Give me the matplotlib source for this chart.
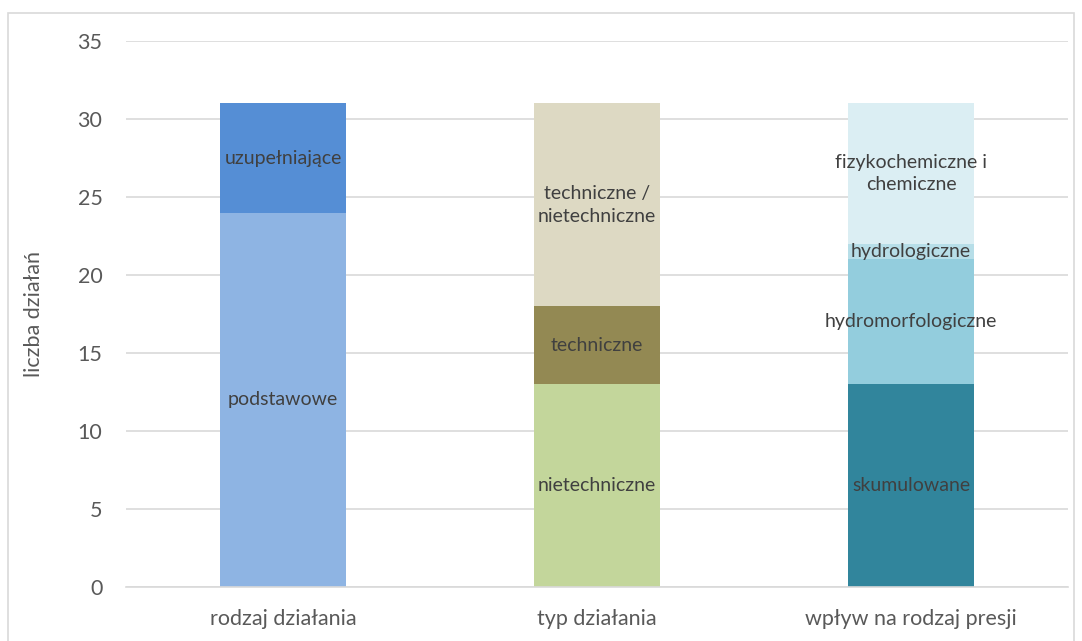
import matplotlib.pyplot as plt
import matplotlib.patches as mpatches
import numpy as np

plt.rcParams.update({'font.family': ['Lato', 'DejaVu Sans'],
                     'font.size': 15})

categories = ['rodzaj działania', 'typ działania', 'wpływ na rodzaj presji']
# stacked segments per bar: (label, value, colour), bottom to top
segments = [
    [('podstawowe', 24, '#8EB4E3'), ('uzupełniające', 7, '#558ED5')],
    [('nietechniczne', 13, '#C3D69B'), ('techniczne', 5, '#938953'),
     ('techniczne /\nnietechniczne', 13, '#DDD9C3')],
    [('skumulowane', 13, '#31859C'), ('hydromorfologiczne', 8, '#93CDDD'),
     ('hydrologiczne', 1, '#B7DEE8'), ('fizykochemiczne i\nchemiczne', 9, '#DBEEF3')],
]
yticks = [0, 5, 10, 15, 20, 25, 30, 35]

fig = plt.figure(figsize=(10.82, 6.41), dpi=100)
ax = fig.add_axes([0.1165, 0.0842, 0.8705, 0.8518])

x = np.arange(len(categories))
for i, segs in enumerate(segments):
    bottom = 0
    for lab, val, col in segs:
        ax.bar(x[i], val, width=0.4, bottom=bottom, color=col, zorder=2)
        ax.text(x[i], bottom + val / 2, lab, ha='center', va='center',
                color='#404040', fontsize=14, zorder=3, linespacing=1.4)
        bottom += val

ax.set_xlim(-0.5, 2.5)
ax.set_ylim(0, 35)
ax.set_yticks(yticks)
ax.set_xticks(x)
ax.set_xticklabels(categories)
ax.yaxis.grid(True, color='#D9D9D9', lw=1.2, zorder=0)
for s in ['top', 'right', 'left']:
    ax.spines[s].set_visible(False)
ax.spines['bottom'].set_color('#D9D9D9')
ax.spines['bottom'].set_linewidth(1.2)
ax.tick_params(axis='both', length=0, colors='#595959', labelsize=15.5)
ax.tick_params(axis='y', pad=17)
ax.tick_params(axis='x', pad=16)
ax.set_ylabel('liczba działań', color='#595959', fontsize=15.5, labelpad=24)

fig.patches.append(mpatches.Rectangle((0.0075, -0.01), 0.985, 0.99, transform=fig.transFigure,
                                      fill=False, edgecolor='#D9D9D9', lw=1.2))

plt.savefig('out.png', dpi=100)
